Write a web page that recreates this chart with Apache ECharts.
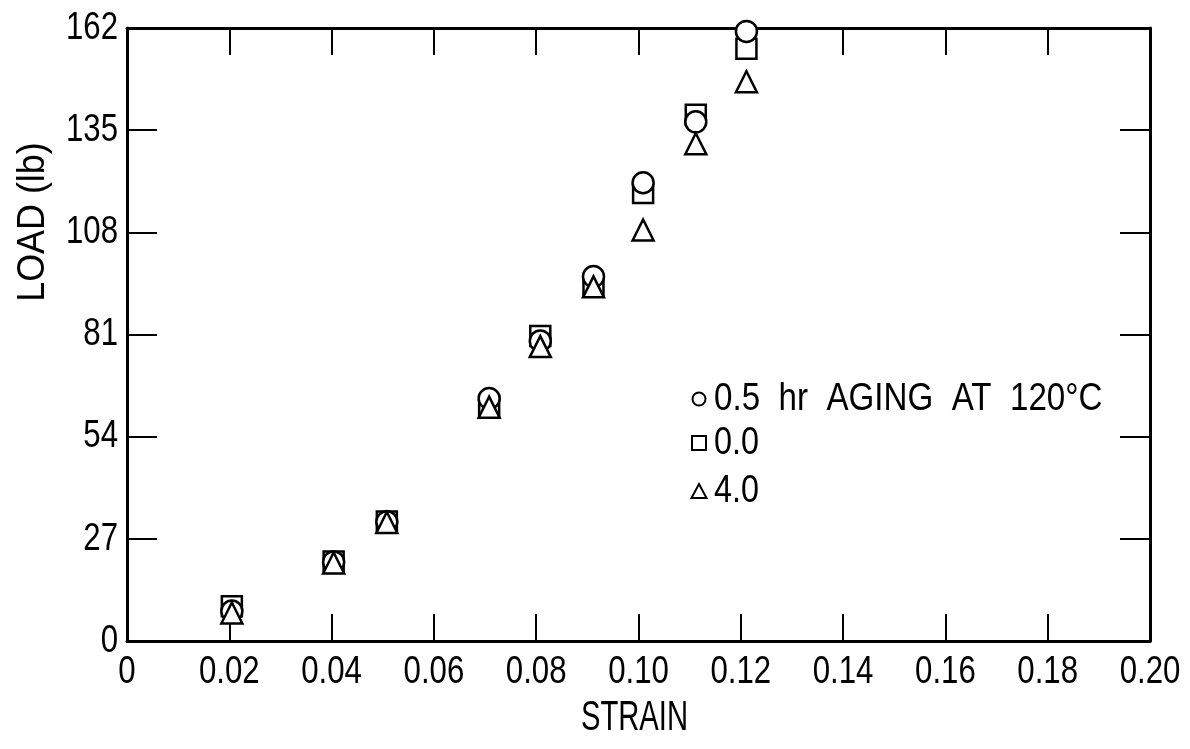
<!DOCTYPE html>
<html>
<head>
<meta charset="utf-8">
<script src="https://cdn.jsdelivr.net/npm/echarts@6/dist/echarts.min.js"></script>
<style>
  html, body { margin: 0; padding: 0; background: #fff; }
  #chart { width: 1190px; height: 749px; }
</style>
</head>
<body>
<div id="chart"></div>
<script>
// Strain at which each group of specimens was measured
const strain = [0.0205, 0.0404, 0.0508, 0.0708, 0.0808, 0.0912, 0.1009, 0.1112, 0.1211];

// Load (lb) for each aging time
const load05 = [7.9, 20.9, 31.5, 64.1, 79.3, 96.3, 121.1, 137.2, 161.1];
const load00 = [9.2, 21.0, 31.6, 62.1, 80.6, 93.9, 118.4, 139.1, 156.5];
const load40 = [7.4, 20.6, 31.3, 61.8, 77.8, 93.6, 108.6, 131.4, 147.8];

const seriesNames = ['0.5 hr AGING AT 120\u00B0C', '0.0', '4.0'];
const legendText = ['0.5  hr  AGING  AT  120\u00B0C', '0.0', '4.0'];

const xTickLabels = ['0', '0.02', '0.04', '0.06', '0.08', '0.10', '0.12', '0.14', '0.16', '0.18', '0.20'];
const yTickLabels = ['0', '27', '54', '81', '108', '135', '162'];

// Helvetica-condensed look: regular sans squeezed horizontally
const FONT = '"Liberation Sans", Arial, sans-serif';
const SQUEEZE = 0.8;

const pairs = (ys) => strain.map((x, i) => [x, ys[i]]);

const markStyle = { color: '#fff', borderColor: '#000', borderWidth: 2.5, opacity: 1 };

const axisLine = { show: true, onZero: false, lineStyle: { color: '#000', width: 3 } };

function xAxis(pos) {
  return {
    type: 'value', position: pos, min: 0, max: 0.2, interval: 0.02,
    axisLine: axisLine,
    axisTick: { show: true, inside: true, length: 27, lineStyle: { color: '#000', width: 2 } },
    axisLabel: { show: false },
    splitLine: { show: false }
  };
}

function yAxis(pos) {
  return {
    type: 'value', position: pos, min: 0, max: 162, interval: 27,
    axisLine: axisLine,
    axisTick: { show: true, inside: true, length: 30, lineStyle: { color: '#000', width: 2 } },
    axisLabel: { show: false },
    splitLine: { show: false }
  };
}

const chart = echarts.init(document.getElementById('chart'));
chart.setOption({
  animation: false,
  backgroundColor: '#fff',
  grid: { left: 127, right: 40, top: 28, bottom: 108, containLabel: false },
  xAxis: [xAxis('bottom'), xAxis('top')],
  yAxis: [yAxis('left'), yAxis('right')],
  series: [
    { name: seriesNames[1], type: 'scatter', symbol: 'rect', symbolSize: 20, data: pairs(load00), itemStyle: markStyle, emphasis: { disabled: true } },
    { name: seriesNames[0], type: 'scatter', symbol: 'circle', symbolSize: 21, data: pairs(load05), itemStyle: markStyle, emphasis: { disabled: true } },
    { name: seriesNames[2], type: 'scatter', symbol: 'triangle', symbolSize: 21, data: pairs(load40), itemStyle: markStyle, emphasis: { disabled: true } }
  ]
});

// Tick labels and titles in a narrow face, placed through the axis scales
function label(text, x, y, align, size, sx, rot) {
  return {
    type: 'text', x: x, y: y, scaleX: sx, rotation: rot || 0, silent: true,
    style: {
      text: text, fill: '#000', fontSize: size, fontFamily: FONT,
      textAlign: align, textVerticalAlign: 'middle'
    }
  };
}

const gfx = [];
const xBase = chart.convertToPixel({ yAxisIndex: 0 }, 0);
const yBase = chart.convertToPixel({ xAxisIndex: 0 }, 0);
xTickLabels.forEach((t) => {
  const px = chart.convertToPixel({ xAxisIndex: 0 }, Number(t));
  gfx.push(label(t, px, xBase + 31, 'center', 39, SQUEEZE));
});
yTickLabels.forEach((t) => {
  const py = chart.convertToPixel({ yAxisIndex: 0 }, Number(t));
  gfx.push(label(t, yBase - 9, py, 'right', 39, SQUEEZE));
});
gfx.push(label('STRAIN', (yBase + chart.convertToPixel({ xAxisIndex: 0 }, 0.2)) / 2 - 4, xBase + 77, 'center', 43, 0.68));
gfx.push(label('LOAD (lb)', 33, 222, 'center', 39, 0.92, Math.PI / 2));

// Key: marker shapes with their aging times
const keyX = 699, keyTextX = 714;
const keyY = [399, 443, 491];
const keyStroke = { fill: '#fff', stroke: '#000', lineWidth: 2 };
gfx.push({ type: 'circle', shape: { cx: keyX, cy: keyY[0], r: 6.5 }, style: keyStroke, silent: true });
gfx.push({ type: 'rect', shape: { x: keyX - 7, y: keyY[1] - 7, width: 14, height: 14 }, style: keyStroke, silent: true });
gfx.push({ type: 'polygon', shape: { points: [[keyX, keyY[2] - 7], [keyX + 7.5, keyY[2] + 7], [keyX - 7.5, keyY[2] + 7]] }, style: keyStroke, silent: true });
legendText.forEach((t, i) => gfx.push(label(t, keyTextX, keyY[i], 'left', 39, i === 0 ? 0.85 : 0.83)));

chart.setOption({ graphic: gfx });
</script>
</body>
</html>
